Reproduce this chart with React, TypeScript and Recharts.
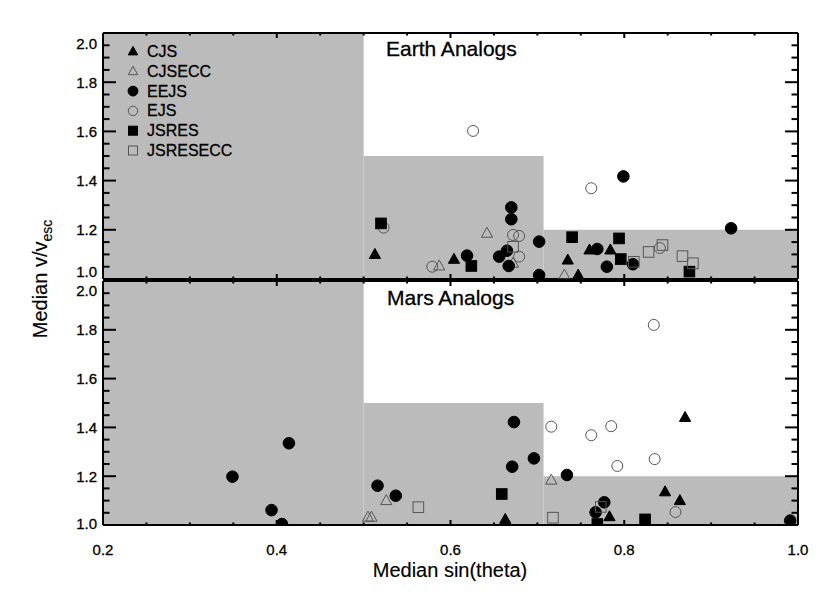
import React from 'react';
import { ScatterChart, Scatter, XAxis, YAxis, ReferenceArea } from 'recharts';

type Pt = { x: number; y: number };

// Earth analogs (top panel)
const EARTH_CJS: Pt[] = [
  { x: 0.513, y: 1.100 }, { x: 0.604, y: 1.080 }, { x: 0.735, y: 1.077 },
  { x: 0.747, y: 1.016 }, { x: 0.760, y: 1.118 }, { x: 0.784, y: 1.118 },
];
const EARTH_CJSECC: Pt[] = [
  { x: 0.587, y: 1.053 }, { x: 0.642, y: 1.186 }, { x: 0.672, y: 1.064 }, { x: 0.731, y: 1.016 },
];
const EARTH_EEJS: Pt[] = [
  { x: 0.619, y: 1.095 }, { x: 0.670, y: 1.291 }, { x: 0.670, y: 1.243 }, { x: 0.665, y: 1.115 },
  { x: 0.656, y: 1.091 }, { x: 0.667, y: 1.053 }, { x: 0.702, y: 1.152 }, { x: 0.702, y: 1.016 },
  { x: 0.769, y: 1.122 }, { x: 0.780, y: 1.050 }, { x: 0.810, y: 1.060 }, { x: 0.923, y: 1.206 },
  { x: 0.799, y: 1.417 },
];
const EARTH_EJS: Pt[] = [
  { x: 0.523, y: 1.209 }, { x: 0.579, y: 1.050 }, { x: 0.672, y: 1.179 }, { x: 0.679, y: 1.175 },
  { x: 0.679, y: 1.091 }, { x: 0.841, y: 1.126 }, { x: 0.762, y: 1.369 }, { x: 0.626, y: 1.602 },
];
const EARTH_JSRES: Pt[] = [
  { x: 0.520, y: 1.226 }, { x: 0.624, y: 1.053 }, { x: 0.740, y: 1.170 },
  { x: 0.794, y: 1.165 }, { x: 0.796, y: 1.081 }, { x: 0.875, y: 1.030 },
];
const EARTH_JSRESECC: Pt[] = [
  { x: 0.672, y: 1.131 }, { x: 0.811, y: 1.070 }, { x: 0.828, y: 1.110 },
  { x: 0.844, y: 1.138 }, { x: 0.867, y: 1.093 }, { x: 0.879, y: 1.064 },
];

// Mars analogs (bottom panel)
const MARS_CJS: Pt[] = [
  { x: 0.663, y: 1.023 }, { x: 0.783, y: 1.034 }, { x: 0.847, y: 1.136 },
  { x: 0.864, y: 1.100 }, { x: 0.870, y: 1.441 },
];
const MARS_CJSECC: Pt[] = [
  { x: 0.505, y: 1.032 }, { x: 0.509, y: 1.032 }, { x: 0.526, y: 1.100 }, { x: 0.716, y: 1.184 },
];
const MARS_EEJS: Pt[] = [
  { x: 0.349, y: 1.198 }, { x: 0.414, y: 1.335 }, { x: 0.394, y: 1.061 }, { x: 0.406, y: 1.004 },
  { x: 0.516, y: 1.161 }, { x: 0.537, y: 1.120 }, { x: 0.673, y: 1.422 }, { x: 0.671, y: 1.239 },
  { x: 0.696, y: 1.273 }, { x: 0.734, y: 1.205 }, { x: 0.767, y: 1.052 }, { x: 0.777, y: 1.093 },
  { x: 0.991, y: 1.018 },
];
const MARS_EJS: Pt[] = [
  { x: 0.716, y: 1.403 }, { x: 0.762, y: 1.368 }, { x: 0.785, y: 1.405 }, { x: 0.792, y: 1.242 },
  { x: 0.834, y: 1.820 }, { x: 0.835, y: 1.270 }, { x: 0.859, y: 1.053 },
];
const MARS_JSRES: Pt[] = [{ x: 0.659, y: 1.127 }, { x: 0.824, y: 1.023 }, { x: 0.769, y: 1.004 }];
const MARS_JSRESECC: Pt[] = [{ x: 0.563, y: 1.073 }, { x: 0.718, y: 1.030 }, { x: 0.773, y: 1.074 }];

// shaded step region: edges and heights
const STEP_X = [0.2, 0.5, 0.7071, 1.0];
const STEP_Y = [2.0, 1.5, 1.2];

const X_TICKS = [0.2, 0.25, 0.3, 0.35, 0.4, 0.45, 0.5, 0.55, 0.6, 0.65, 0.7, 0.75, 0.8, 0.85, 0.9, 0.95, 1.0];
const Y_TICKS = [1.0, 1.05, 1.1, 1.15, 1.2, 1.25, 1.3, 1.35, 1.4, 1.45, 1.5, 1.55, 1.6, 1.65, 1.7, 1.75, 1.8, 1.85, 1.9, 1.95, 2.0];

const FONT = '"Liberation Sans", Arial, Helvetica, sans-serif';
const GRAY = '#bbbbbb';
const OPEN = '#555555';

type Kind = 'tri' | 'circle' | 'square';

const drawMarker = (kind: Kind, filled: boolean, cx: number, cy: number, s = 1) => {
  const fill = filled ? '#000' : 'none';
  const stroke = filled ? '#000' : OPEN;
  if (kind === 'circle') return <circle cx={cx} cy={cy} r={(filled ? 5.8 : 5.5) * s} fill={fill} stroke={stroke} strokeWidth={1} />;
  if (kind === 'square') {
    const h = 5.3 * s;
    return <rect x={cx - h} y={cy - h} width={2 * h} height={2 * h} fill={fill} stroke={stroke} strokeWidth={1} />;
  }
  const w = 5.6 * s;
  return <polygon points={`${cx},${cy - 6 * s} ${cx - w},${cy + 4 * s} ${cx + w},${cy + 4 * s}`} fill={fill} stroke={stroke} strokeWidth={1} />;
};

const shapeOf = (kind: Kind, filled: boolean) => (props: any) => {
  const { cx, cy } = props;
  if (cx == null || cy == null) return <g />;
  return drawMarker(kind, filled, cx, cy);
};

const SERIES: { name: string; kind: Kind; filled: boolean; earth: Pt[]; mars: Pt[] }[] = [
  { name: 'CJS', kind: 'tri', filled: true, earth: EARTH_CJS, mars: MARS_CJS },
  { name: 'CJSECC', kind: 'tri', filled: false, earth: EARTH_CJSECC, mars: MARS_CJSECC },
  { name: 'EEJS', kind: 'circle', filled: true, earth: EARTH_EEJS, mars: MARS_EEJS },
  { name: 'EJS', kind: 'circle', filled: false, earth: EARTH_EJS, mars: MARS_EJS },
  { name: 'JSRES', kind: 'square', filled: true, earth: EARTH_JSRES, mars: MARS_JSRES },
  { name: 'JSRESECC', kind: 'square', filled: false, earth: EARTH_JSRESECC, mars: MARS_JSRESECC },
];

const isMajor = (v: number) => Math.abs(v * 5 - Math.round(v * 5)) < 1e-6;
// a hairline stroke makes the text look closer to the heavy IDL Helvetica
const textStyle = { fontFamily: FONT, fontSize: 16, fill: '#000', stroke: '#000', strokeWidth: 0.3 };
const tickStyle = { ...textStyle, fontSize: 15 };

// ticks point into the plot, IDL-style; major ticks longer
const xTick = (dir: 1 | -1, labels: boolean) => (p: any) => {
  const v = p.payload.value;
  const len = isMajor(v) ? 5 : 2.5;
  return (
    <g>
      <line x1={p.x} y1={p.y} x2={p.x} y2={p.y + dir * len} stroke="#000" strokeWidth={2} />
      {labels && isMajor(v) && (
        <text x={p.x} y={p.y + 24} textAnchor="middle" dominantBaseline="central" style={tickStyle}>{v.toFixed(1)}</text>
      )}
    </g>
  );
};

const yTick = (dir: 1 | -1, shifts?: Record<string, number>) => (p: any) => {
  const v = p.payload.value;
  const len = isMajor(v) ? 13 : 6.5;
  const lab = v.toFixed(1);
  return (
    <g>
      <line x1={p.x} y1={p.y} x2={p.x + dir * len} y2={p.y} stroke="#000" strokeWidth={2} />
      {shifts && isMajor(v) && (
        <text x={p.x - 6} y={p.y + (shifts[lab] ?? 0)} textAnchor="end" dominantBaseline="central" style={tickStyle}>{lab}</text>
      )}
    </g>
  );
};

const axisLine = { stroke: '#000', strokeWidth: 2 };

function Panel({ which, height, marginTop, marginBottom, bottomAxisHeight, labels, shifts }: {
  which: 'earth' | 'mars'; height: number; marginTop: number; marginBottom: number;
  bottomAxisHeight: number; labels: boolean; shifts: Record<string, number>;
}) {
  return (
    <ScatterChart width={830} height={height} margin={{ top: marginTop, right: 31, bottom: marginBottom, left: 43 }}>
      <XAxis xAxisId="b" type="number" dataKey="x" domain={[0.2, 1.0]} ticks={X_TICKS} interval={0}
        allowDataOverflow orientation="bottom" height={bottomAxisHeight} tickSize={0} tickMargin={0}
        tickLine={false} axisLine={axisLine} tick={xTick(-1, labels)} />
      <XAxis xAxisId="t" type="number" dataKey="x" domain={[0.2, 1.0]} ticks={X_TICKS} interval={0}
        allowDataOverflow orientation="top" height={1} tickSize={0} tickMargin={0}
        tickLine={false} axisLine={axisLine} tick={xTick(1, false)} />
      <YAxis yAxisId="l" type="number" dataKey="y" domain={[1.0, 2.0]} ticks={Y_TICKS} interval={0}
        allowDataOverflow orientation="left" width={60} tickSize={0} tickMargin={0}
        tickLine={false} axisLine={axisLine} tick={yTick(1, shifts)} />
      <YAxis yAxisId="r" type="number" dataKey="y" domain={[1.0, 2.0]} ticks={Y_TICKS} interval={0}
        allowDataOverflow orientation="right" width={1} tickSize={0} tickMargin={0}
        tickLine={false} axisLine={axisLine} tick={yTick(-1)} />
      {STEP_Y.map((top, i) => (
        <ReferenceArea key={i} xAxisId="b" yAxisId="l" x1={STEP_X[i]} x2={STEP_X[i + 1]} y1={1.0} y2={top}
          fill={GRAY} fillOpacity={1} stroke="none" />
      ))}
      {SERIES.map(s => (
        <Scatter key={s.name} name={s.name} xAxisId="b" yAxisId="l" data={s[which]}
          shape={shapeOf(s.kind, s.filled)} isAnimationActive={false} />
      ))}
      <Scatter xAxisId="t" yAxisId="r" data={[]} isAnimationActive={false} />
    </ScatterChart>
  );
}

export default function App() {
  return (
    <div style={{ position: 'absolute', left: 0, top: 0, width: 830, height: 593, background: '#fff' }}>
      <div style={{ position: 'absolute', left: 0, top: 0 }}>
        <Panel which="earth" height={284} marginTop={32} marginBottom={4} bottomAxisHeight={1} labels={false}
          shifts={{ '2.0': 10, '1.0': -8 }} />
      </div>
      <div style={{ position: 'absolute', left: 0, top: 270 }}>
        <Panel which="mars" height={323} marginTop={10} marginBottom={38} bottomAxisHeight={30} labels
          shifts={{ '2.0': 9, '1.0': -2 }} />
      </div>
      <svg width={830} height={593} style={{ position: 'absolute', left: 0, top: 0, pointerEvents: 'none' }}>
        {SERIES.map((s, i) => {
          const y = 51.5 + i * 19.8;
          return (
            <g key={s.name}>
              {drawMarker(s.kind, s.filled, 133, y, 0.85)}
              <text x={147} y={y} dominantBaseline="central" style={textStyle}>{s.name}</text>
            </g>
          );
        })}
        <text x={386} y={56} style={{ ...textStyle, fontSize: 21 }}>Earth Analogs</text>
        <text x={387} y={305} style={{ ...textStyle, fontSize: 21 }}>Mars Analogs</text>
        <text x={450} y={577} textAnchor="middle" style={{ ...textStyle, fontSize: 20, strokeWidth: 0.15 }}>Median sin(theta)</text>
        <text transform="translate(47, 279) rotate(-90)" textAnchor="middle" style={{ ...textStyle, fontSize: 20, strokeWidth: 0.15 }}>
          Median v/v<tspan fontSize={14} dy={5}>esc</tspan>
        </text>
      </svg>
    </div>
  );
}
